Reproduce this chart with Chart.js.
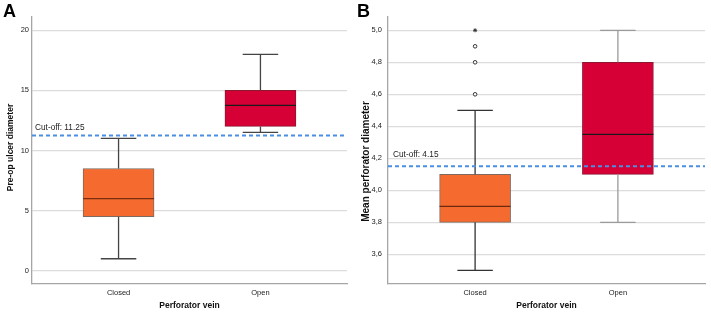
<!DOCTYPE html>
<html>
<head>
<meta charset="utf-8">
<script src="https://cdn.jsdelivr.net/npm/chart.js@4.4.0/dist/chart.umd.min.js"></script>
<style>
  html, body { margin: 0; padding: 0; background: #fff; }
  #wrap { position: relative; width: 711px; height: 314px; overflow: hidden; font-family: "Liberation Sans", Arial, sans-serif; }
  .panel { position: absolute; top: 0; }
  .tag { position: absolute; top: 1px; font: bold 18px "Liberation Sans", Arial, sans-serif; color: #000; }
</style>
</head>
<body>
<div id="wrap">
  <canvas id="chartA" class="panel" width="355" height="314" style="left:0px"></canvas>
  <canvas id="chartB" class="panel" width="356" height="314" style="left:355px"></canvas>
  <div class="tag" style="left:3px">A</div>
  <div class="tag" style="left:357px">B</div>
</div>
<script>
// ---------- data ----------
const categories = ['Closed', 'Open'];
const categoryPositions = [1, 2];

// Panel A: Pre-op ulcer diameter
const ulcerMin    = [1, 11.5];
const ulcerQ1     = [4.5, 12];
const ulcerMedian = [6, 13.75];
const ulcerQ3     = [8.5, 15];
const ulcerMax    = [11, 18];
const ulcerTicks  = [0, 5, 10, 15, 20];
const ulcerCutoff = 11.25;

// Panel B: Mean perforator diameter
const perfMin    = [3.5, 3.8];
const perfQ1     = [3.8, 4.1];
const perfMedian = [3.9, 4.35];
const perfQ3     = [4.1, 4.8];
const perfMax    = [4.5, 5.0];
const perfTicks  = [3.6, 3.8, 4.0, 4.2, 4.4, 4.6, 4.8, 5.0];
const perfCutoff = 4.15;
const perfOutliersClosed = [4.6, 4.8, 4.9];
const perfExtremesClosed = [5.0];

// ---------- helpers ----------
const boxColors = ['#F56A2E', '#D70036'];
const boxBorders = ['#7d6a60', '#8c1830'];

function boxPlugin(stats, style) {
  return {
    id: 'boxWhisker',
    afterDatasetsDraw(chart) {
      const ctx = chart.ctx;
      const xs = chart.scales.x, ys = chart.scales.y;
      const meta = chart.getDatasetMeta(0);
      ctx.save();
      stats.pos.forEach((p, i) => {
        const x = xs.getPixelForValue(p);
        const bw = meta.data[i].width;
        const cap = bw / 4;
        // whiskers
        ctx.strokeStyle = style.whisker[i];
        ctx.lineWidth = 1.3;
        ctx.beginPath();
        ctx.moveTo(x, ys.getPixelForValue(stats.q3[i]));
        ctx.lineTo(x, ys.getPixelForValue(stats.max[i]));
        ctx.moveTo(x - cap, ys.getPixelForValue(stats.max[i]));
        ctx.lineTo(x + cap, ys.getPixelForValue(stats.max[i]));
        ctx.moveTo(x, ys.getPixelForValue(stats.q1[i]));
        ctx.lineTo(x, ys.getPixelForValue(stats.min[i]));
        ctx.moveTo(x - cap, ys.getPixelForValue(stats.min[i]));
        ctx.lineTo(x + cap, ys.getPixelForValue(stats.min[i]));
        ctx.stroke();
        // median
        ctx.strokeStyle = style.median[i];
        ctx.lineWidth = 1.4;
        ctx.beginPath();
        const ym = ys.getPixelForValue(stats.median[i]);
        ctx.moveTo(x - bw / 2, ym);
        ctx.lineTo(x + bw / 2, ym);
        ctx.stroke();
      });
      // cut-off line
      const yc = ys.getPixelForValue(stats.cutoff);
      ctx.strokeStyle = '#4A8FE3';
      ctx.lineWidth = 2;
      ctx.setLineDash([4, 3]);
      ctx.beginPath();
      ctx.moveTo(chart.chartArea.left, yc);
      ctx.lineTo(chart.chartArea.right, yc);
      ctx.stroke();
      ctx.setLineDash([]);
      ctx.fillStyle = '#222';
      ctx.font = '8.3px "Liberation Sans", Arial, sans-serif';
      ctx.textBaseline = 'alphabetic';
      ctx.textAlign = 'left';
      ctx.fillText('Cut-off: ' + stats.cutoffText, chart.chartArea.left + style.labelDx, yc - style.labelDy);
      // y-axis title
      ctx.save();
      ctx.translate(style.titleX, (chart.chartArea.top + chart.chartArea.bottom) / 2 + style.titleDy);
      ctx.rotate(-Math.PI / 2);
      ctx.font = 'bold ' + style.titleSize + 'px "Liberation Sans", Arial, sans-serif';
      ctx.fillStyle = '#111';
      ctx.textAlign = 'center';
      ctx.textBaseline = 'middle';
      ctx.fillText(style.title, 0, 0);
      ctx.restore();
      ctx.restore();
    }
  };
}

function makeChart(id, s, yMin, yMax, ticks, fmt, yWidth, padRight, tickPad, style, extraDatasets) {
  const datasets = [{
    type: 'bar',
    data: s.pos.map((p, i) => ({ x: p, y: [s.q1[i], s.q3[i]] })),
    backgroundColor: boxColors,
    borderColor: boxBorders,
    borderWidth: 1,
    borderSkipped: false,
    barThickness: 71,
    order: 2
  }].concat(extraDatasets || []);
  return new Chart(document.getElementById(id), {
    type: 'bar',
    data: { datasets },
    options: {
      responsive: false,
      animation: false,
      devicePixelRatio: 1,
      layout: { padding: { top: 17, right: padRight, bottom: 0, left: 0 } },
      plugins: { legend: { display: false }, tooltip: { enabled: false } },
      scales: {
        x: {
          type: 'linear',
          offset: false,
          min: 0.39, max: 2.61,
          afterBuildTicks: sc => { sc.ticks = categoryPositions.map(v => ({ value: v })); },
          afterFit: sc => { sc.height = 30; },
          grid: { display: false, drawTicks: false },
          border: { display: true, color: '#a6a6a6', width: 1.3 },
          ticks: {
            padding: 4,
            color: '#222',
            font: { family: '"Liberation Sans", Arial, sans-serif', size: 7.5 },
            callback: v => categories[categoryPositions.indexOf(v)] || ''
          },
          title: {
            display: true, text: 'Perforator vein', color: '#111',
            font: { family: '"Liberation Sans", Arial, sans-serif', size: 8.5, weight: 'bold' },
            padding: { top: 0, bottom: 3.2 }
          }
        },
        y: {
          type: 'linear',
          min: yMin, max: yMax,
          afterBuildTicks: sc => { sc.ticks = ticks.map(v => ({ value: v })); },
          afterFit: sc => { sc.width = yWidth; },
          grid: { color: '#dcdcdc', lineWidth: 1.3, drawTicks: false },
          border: { display: true, color: '#a6a6a6', width: 1.3 },
          ticks: {
            padding: tickPad,
            color: '#222',
            font: { family: '"Liberation Sans", Arial, sans-serif', size: 7.5 },
            callback: fmt
          }
        }
      }
    },
    plugins: [boxPlugin(s, style)]
  });
}

const statsA = { pos: categoryPositions, min: ulcerMin, q1: ulcerQ1, median: ulcerMedian, q3: ulcerQ3, max: ulcerMax, cutoff: ulcerCutoff, cutoffText: '11.25' };
const statsB = { pos: categoryPositions, min: perfMin, q1: perfQ1, median: perfMedian, q3: perfQ3, max: perfMax, cutoff: perfCutoff, cutoffText: '4.15' };

makeChart('chartA', statsA, -1.1, 21.1, ulcerTicks, v => String(v), 32, 8, 3,
  { whisker: ['#444', '#444'], median: ['#7a2e10', '#1a1a1a'], labelDx: 3, labelDy: 5,
    title: 'Pre-op ulcer diameter', titleSize: 8.5, titleX: 11, titleDy: -3 });

makeChart('chartB', statsB, 3.415, 5.083, perfTicks, v => v.toFixed(1).replace('.', ','), 33, 6, 6,
  { whisker: ['#333', '#9a9a9a'], median: ['#6e2a0e', '#1a1a1a'], labelDx: 5, labelDy: 9,
    title: 'Mean perforator diameter', titleSize: 10, titleX: 11, titleDy: 11 },
  [{
    type: 'scatter',
    data: perfOutliersClosed.map(v => ({ x: categoryPositions[0], y: v })),
    pointStyle: 'circle', radius: 1.8, borderWidth: 1, borderColor: '#333', backgroundColor: '#fff', order: 1
  }, {
    type: 'scatter',
    data: perfExtremesClosed.map(v => ({ x: categoryPositions[0], y: v })),
    pointStyle: 'star', radius: 2, borderWidth: 1, borderColor: '#333', backgroundColor: '#333', order: 1
  }]);
</script>
</body>
</html>
